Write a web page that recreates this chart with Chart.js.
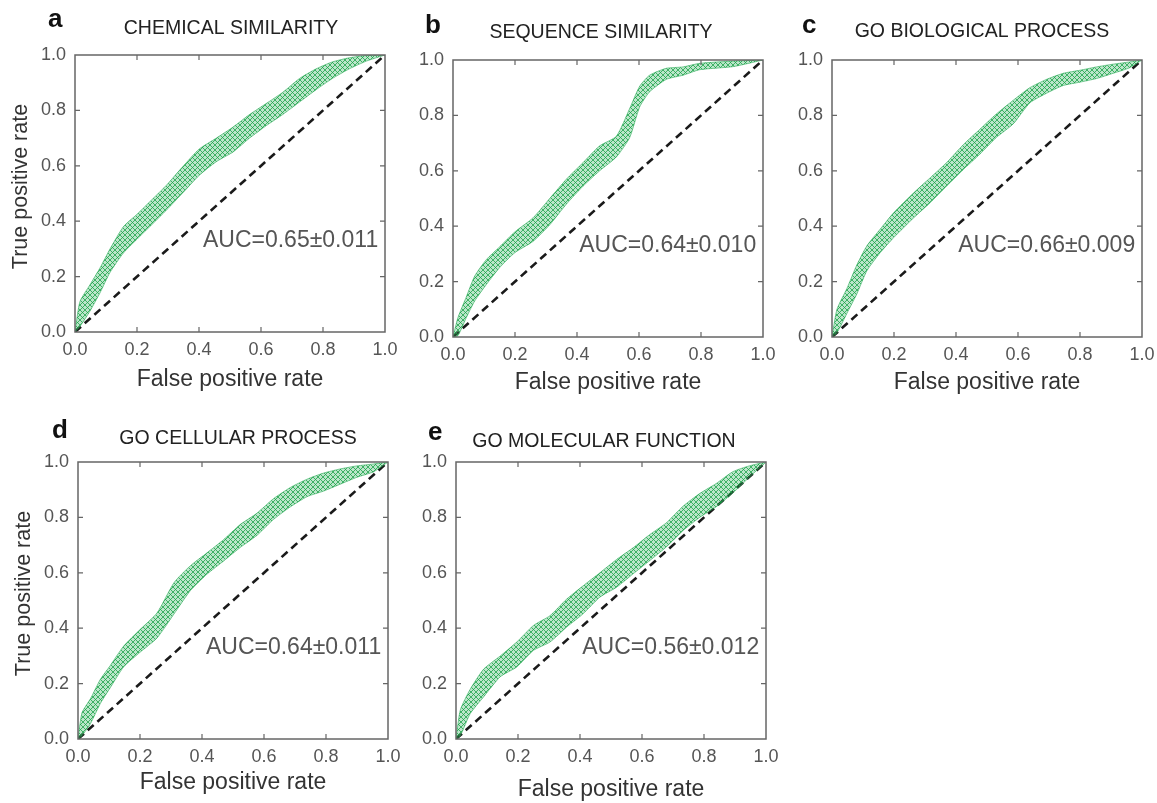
<!DOCTYPE html>
<html>
<head>
<meta charset="utf-8">
<script src="https://cdn.jsdelivr.net/npm/chart.js@4.4.1/dist/chart.umd.min.js"></script>
<style>
  body { margin: 0; background: #fff; }
  #wrap { position: relative; width: 1157px; height: 803px; overflow: hidden; background: #fff; }
  canvas { position: absolute; }
</style>
</head>
<body>
<div id="wrap">
  <canvas id="pa" width="400" height="400"></canvas>
  <canvas id="pb" width="400" height="400"></canvas>
  <canvas id="pc" width="400" height="400"></canvas>
  <canvas id="pd" width="400" height="400"></canvas>
  <canvas id="pe" width="400" height="400"></canvas>
</div>
<script>
// ROC bands: lowest and highest TPR of the repeated runs at each FPR step
const chemFpr  = [0, 0.016, 0.048, 0.08, 0.113, 0.156, 0.2, 0.25, 0.295, 0.35, 0.4, 0.456, 0.51, 0.563, 0.617, 0.67, 0.724, 0.778, 0.83, 0.885, 0.94, 1];
const chemLow  = [0, 0.02, 0.075, 0.14, 0.215, 0.285, 0.335, 0.39, 0.44, 0.505, 0.565, 0.615, 0.65, 0.70, 0.745, 0.785, 0.83, 0.875, 0.915, 0.95, 0.978, 1];
const chemHigh = [0, 0.11, 0.17, 0.23, 0.30, 0.38, 0.425, 0.48, 0.53, 0.60, 0.66, 0.70, 0.74, 0.785, 0.825, 0.865, 0.915, 0.95, 0.975, 0.99, 0.998, 1];

const seqFpr  = [0, 0.016, 0.043, 0.07, 0.108, 0.15, 0.2, 0.258, 0.312, 0.366, 0.42, 0.473, 0.527, 0.57, 0.602, 0.634, 0.688, 0.742, 0.796, 0.903, 1];
const seqLow  = [0, 0.005, 0.07, 0.13, 0.19, 0.25, 0.305, 0.345, 0.405, 0.48, 0.545, 0.60, 0.65, 0.72, 0.83, 0.885, 0.93, 0.945, 0.965, 0.976, 1];
const seqHigh = [0, 0.07, 0.145, 0.22, 0.28, 0.325, 0.38, 0.43, 0.50, 0.57, 0.63, 0.69, 0.725, 0.825, 0.905, 0.945, 0.97, 0.975, 0.988, 0.996, 1];

const bioFpr  = [0, 0.016, 0.048, 0.08, 0.113, 0.156, 0.2, 0.263, 0.317, 0.37, 0.424, 0.477, 0.53, 0.585, 0.638, 0.692, 0.746, 0.8, 0.853, 0.907, 0.96, 1];
const bioLow  = [0, 0.015, 0.085, 0.155, 0.24, 0.305, 0.36, 0.43, 0.485, 0.545, 0.605, 0.66, 0.72, 0.77, 0.845, 0.88, 0.908, 0.92, 0.933, 0.952, 0.972, 1];
const bioHigh = [0, 0.10, 0.175, 0.26, 0.33, 0.39, 0.45, 0.52, 0.575, 0.63, 0.695, 0.75, 0.805, 0.855, 0.90, 0.93, 0.952, 0.963, 0.975, 0.985, 0.993, 1];

const cellFpr  = [0, 0.013, 0.04, 0.072, 0.104, 0.147, 0.2, 0.255, 0.31, 0.362, 0.416, 0.47, 0.524, 0.577, 0.631, 0.685, 0.739, 0.792, 0.846, 0.9, 0.954, 1];
const cellLow  = [0, 0.012, 0.055, 0.128, 0.185, 0.26, 0.313, 0.365, 0.452, 0.535, 0.595, 0.643, 0.692, 0.735, 0.793, 0.838, 0.875, 0.895, 0.92, 0.945, 0.965, 1];
const cellHigh = [0, 0.095, 0.145, 0.215, 0.265, 0.335, 0.395, 0.455, 0.565, 0.625, 0.672, 0.72, 0.775, 0.815, 0.868, 0.908, 0.938, 0.96, 0.975, 0.986, 0.993, 1];

const molFpr  = [0, 0.014, 0.046, 0.089, 0.143, 0.196, 0.25, 0.303, 0.357, 0.41, 0.464, 0.518, 0.571, 0.625, 0.678, 0.732, 0.786, 0.839, 0.893, 0.946, 1];
const molLow  = [0, 0.012, 0.092, 0.152, 0.225, 0.26, 0.32, 0.35, 0.404, 0.452, 0.512, 0.548, 0.596, 0.644, 0.693, 0.752, 0.80, 0.838, 0.888, 0.945, 1];
const molHigh = [0, 0.105, 0.18, 0.252, 0.30, 0.35, 0.41, 0.445, 0.505, 0.553, 0.60, 0.648, 0.69, 0.738, 0.78, 0.84, 0.886, 0.922, 0.965, 0.986, 1];

// random-guess diagonal
const chanceLine = [0, 1];
const axisTicks = [0, 0.2, 0.4, 0.6, 0.8, 1.0];

const FONT = '"Liberation Sans", Arial, Helvetica, sans-serif';
const GREEN = 'rgba(40, 170, 85, 0.75)';

// crosshatch of thin green strokes for the band of curves
function bandPattern() {
  const c = document.createElement('canvas');
  c.width = 5; c.height = 5;
  const g = c.getContext('2d');
  g.fillStyle = 'rgba(50, 180, 95, 0.33)';
  g.fillRect(0, 0, 5, 5);
  g.strokeStyle = 'rgba(25, 160, 70, 0.85)';
  g.lineWidth = 0.9;
  g.beginPath();
  g.moveTo(0, 5); g.lineTo(5, 0);
  g.moveTo(0, 0); g.lineTo(5, 5);
  g.stroke();
  return g.createPattern(c, 'repeat');
}

const panels = [
  { id: 'pa', left: 0,   top: 0,   letter: 'a', title: 'CHEMICAL SIMILARITY',   auc: 'AUC=0.65\u00b10.011', fpr: chemFpr, low: chemLow, high: chemHigh, yTitle: true,  letterX: 48, letterY: 27, titleY: 29, titleDx: 1,  xGap: 48 },
  { id: 'pb', left: 378, top: 5,   letter: 'b', title: 'SEQUENCE SIMILARITY',   auc: 'AUC=0.64\u00b10.010', fpr: seqFpr,  low: seqLow,  high: seqHigh,  yTitle: false, letterX: 47, letterY: 28, titleY: 28, titleDx: -7, xGap: 46 },
  { id: 'pc', left: 757, top: 5,   letter: 'c', title: 'GO BIOLOGICAL PROCESS', auc: 'AUC=0.66\u00b10.009', fpr: bioFpr,  low: bioLow,  high: bioHigh,  yTitle: false, letterX: 45, letterY: 28, titleY: 27, titleDx: -5, xGap: 46 },
  { id: 'pd', left: 3,   top: 407, letter: 'd', title: 'GO CELLULAR PROCESS',   auc: 'AUC=0.64\u00b10.011', fpr: cellFpr, low: cellLow, high: cellHigh, yTitle: true,  letterX: 49, letterY: 31, titleY: 32, titleDx: 5,  xGap: 44 },
  { id: 'pe', left: 381, top: 407, letter: 'e', title: 'GO MOLECULAR FUNCTION', auc: 'AUC=0.56\u00b10.012', fpr: molFpr,  low: molLow,  high: molHigh,  yTitle: false, letterX: 47, letterY: 33, titleY: 35, titleDx: -7, xGap: 51 }
];

// frame with inward ticks, panel letter, title, y title and AUC label
const decor = {
  id: 'decor',
  afterDatasetsDraw(chart, args, o) {
    const { ctx, chartArea: a, scales: { x, y } } = chart;
    ctx.save();
    ctx.strokeStyle = '#666';
    ctx.lineWidth = 1.5;
    ctx.strokeRect(a.left, a.top, a.right - a.left, a.bottom - a.top);
    ctx.lineWidth = 1.2;
    ctx.beginPath();
    axisTicks.slice(1, -1).forEach(v => {
      const px = x.getPixelForValue(v), py = y.getPixelForValue(v);
      ctx.moveTo(px, a.bottom); ctx.lineTo(px, a.bottom - 5);
      ctx.moveTo(px, a.top);    ctx.lineTo(px, a.top + 5);
      ctx.moveTo(a.left, py);   ctx.lineTo(a.left + 5, py);
      ctx.moveTo(a.right, py);  ctx.lineTo(a.right - 5, py);
    });
    ctx.stroke();

    ctx.font = '23px ' + FONT;
    ctx.fillStyle = '#555';
    ctx.textAlign = 'right';
    ctx.textBaseline = 'middle';
    ctx.fillText(o.auc, x.getPixelForValue(0.978), y.getPixelForValue(0.33));

    ctx.font = 'bold 26px ' + FONT;
    ctx.fillStyle = '#111';
    ctx.textAlign = 'left';
    ctx.textBaseline = 'alphabetic';
    ctx.fillText(o.letter, o.letterX, o.letterY);

    ctx.font = '19.5px ' + FONT;
    ctx.fillStyle = '#222';
    ctx.textAlign = 'center';
    ctx.textBaseline = 'middle';
    ctx.fillText(o.title, (a.left + a.right) / 2 + o.titleDx, o.titleY);

    if (o.yTitle) {
      ctx.translate(21, (a.top + a.bottom) / 2 - 7);
      ctx.rotate(-Math.PI / 2);
      ctx.font = '21.5px ' + FONT;
      ctx.fillStyle = '#333';
      ctx.fillText('True positive rate', 0, 0);
    }
    ctx.restore();
  }
};

panels.forEach(p => {
  const canvas = document.getElementById(p.id);
  canvas.style.left = p.left + 'px';
  canvas.style.top = p.top + 'px';
  const pattern = bandPattern();

  new Chart(canvas.getContext('2d'), {
    type: 'line',
    data: {
      datasets: [
        {
          data: p.fpr.map((v, i) => ({ x: v, y: p.high[i] })),
          borderColor: GREEN,
          borderWidth: 0.8,
          backgroundColor: pattern,
          fill: '+1',
          pointRadius: 0,
          tension: 0.2
        },
        {
          data: p.fpr.map((v, i) => ({ x: v, y: p.low[i] })),
          borderColor: GREEN,
          borderWidth: 0.8,
          fill: false,
          pointRadius: 0,
          tension: 0.2
        },
        {
          data: chanceLine.map(v => ({ x: v, y: v })),
          borderColor: '#1a1a1a',
          borderWidth: 2.6,
          borderDash: [8, 5],
          fill: false,
          pointRadius: 0
        }
      ]
    },
    options: {
      responsive: false,
      animation: false,
      layout: { padding: { top: 55, right: 15, bottom: 0, left: 0 } },
      plugins: {
        legend: { display: false },
        tooltip: { enabled: false },
        decor: p
      },
      scales: {
        x: {
          type: 'linear', min: 0, max: 1,
          grid: { display: false, drawTicks: false }, border: { display: false },
          afterBuildTicks: s => { s.ticks = axisTicks.map(v => ({ value: v })); },
          afterFit: s => { s.height = 68; s.paddingLeft = 0; s.paddingRight = 0; },
          ticks: { padding: 7, color: '#555', font: { family: FONT, size: 18 }, callback: v => v.toFixed(1), maxRotation: 0 },
          title: { display: true, text: 'False positive rate', color: '#333', font: { family: FONT, size: 23 }, padding: { top: 0, bottom: 68 - p.xGap - 13.8 } }
        },
        y: {
          type: 'linear', min: 0, max: 1,
          grid: { display: false, drawTicks: false }, border: { display: false },
          afterBuildTicks: s => { s.ticks = axisTicks.map(v => ({ value: v })); },
          afterFit: s => { s.width = 75; s.paddingTop = 0; s.paddingBottom = 0; },
          ticks: { padding: 9, color: '#555', font: { family: FONT, size: 18 }, callback: v => v.toFixed(1) }
        }
      }
    },
    plugins: [decor]
  });
});
</script>
</body>
</html>
